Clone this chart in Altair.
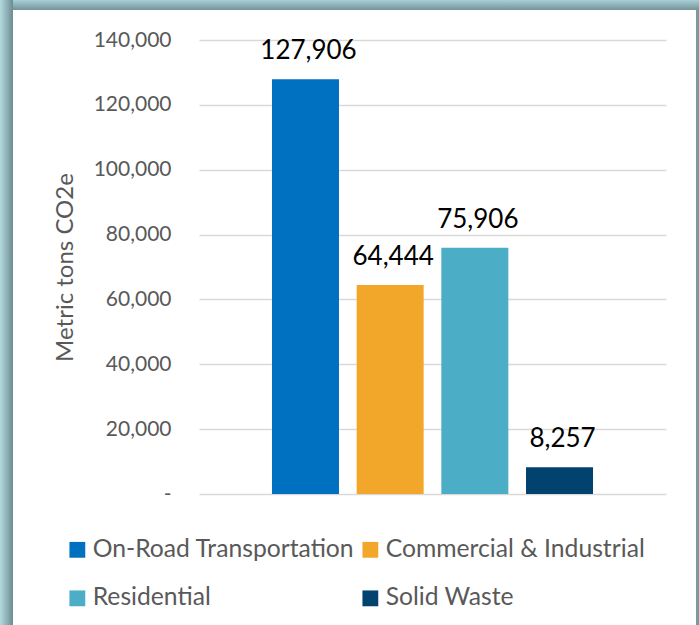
import altair as alt
import pandas as pd

categories = ["On-Road Transportation", "Commercial & Industrial", "Residential", "Solid Waste"]
values = [127906, 64444, 75906, 8257]
colors = ["#0070C0", "#F3A72A", "#4BADC6", "#02426F"]
y_ticks = [0, 20000, 40000, 60000, 80000, 100000, 120000, 140000]

df = pd.DataFrame({"category": categories, "value": values})

FONT = "Lato"
GRAY = "#595959"

x_enc = alt.X("category:N", sort=categories,
              scale=alt.Scale(paddingInner=0.209, paddingOuter=0.862), axis=None)
y_enc = alt.Y("value:Q",
              scale=alt.Scale(domain=[0, 140000], nice=False),
              axis=alt.Axis(values=y_ticks, title="Metric tons CO2e",
                            labelExpr="datum.value == 0 ? '-\u00a0\u00a0\u00a0' : format(datum.value, ',')",
                            labelFont=FONT, labelFontSize=21, labelColor=GRAY,
                            labelPadding=28, domain=False, ticks=False,
                            grid=True, gridColor="#d9d9d9", gridWidth=1.6,
                            titleFont=FONT, titleFontSize=24, titleColor=GRAY,
                            titleFontWeight="normal", titleAngle=270,
                            titleX=-134, titleY=227, titleAlign="center",
                            titleBaseline="middle"))

bars = alt.Chart(df).mark_bar(size=67).encode(
    x=x_enc, y=y_enc,
    color=alt.Color("category:N", sort=categories,
                    scale=alt.Scale(domain=categories, range=colors),
                    legend=alt.Legend(orient="none", legendX=-134, legendY=497,
                                      columns=2, direction="horizontal", title=None,
                                      symbolType="square", symbolSize=250,
                                      symbolStrokeWidth=0, symbolOpacity=1,
                                      labelFont=FONT, labelFontSize=24.7,
                                      labelColor=GRAY, labelOffset=3,
                                      labelLimit=400,
                                      columnPadding=3, rowPadding=23)),
)

labels = alt.Chart(df).mark_text(baseline="alphabetic", dy=-20, dx=3,
                                 fontSize=26, font=FONT, color="black").encode(
    x=x_enc, y=alt.Y("value:Q"), text=alt.Text("value:Q", format=","))

one = pd.DataFrame({"d": [1]})
left_border = alt.Chart(one).mark_rect(fill={
    "gradient": "linear", "x1": 0, "x2": 1, "y1": 0, "y2": 0,
    "stops": [{"offset": 0, "color": "#b3dae0"}, {"offset": 1, "color": "#6d8c92"}]}
).encode(x=alt.value(-199), x2=alt.value(-186), y=alt.value(-40), y2=alt.value(585))
top_border = alt.Chart(one).mark_rect(fill={
    "gradient": "linear", "x1": 0, "x2": 0, "y1": 0, "y2": 1,
    "stops": [{"offset": 0, "color": "#a8d0d6"}, {"offset": 1, "color": "#74939a"}]}
).encode(x=alt.value(-186), x2=alt.value(500), y=alt.value(-40), y2=alt.value(-30))
right_border = alt.Chart(one).mark_rect(fill="#7b999f").encode(
    x=alt.value(497), x2=alt.value(500), y=alt.value(-30), y2=alt.value(585))

chart = alt.layer(left_border, top_border, right_border, bars, labels).properties(
    width=467, height=454, autosize="none",
    padding={"left": 199, "top": 40, "right": 33, "bottom": 131},
    background="white",
).configure_view(stroke=None)

chart.save("out.html", embed_options={"renderer": "svg", "actions": False})
